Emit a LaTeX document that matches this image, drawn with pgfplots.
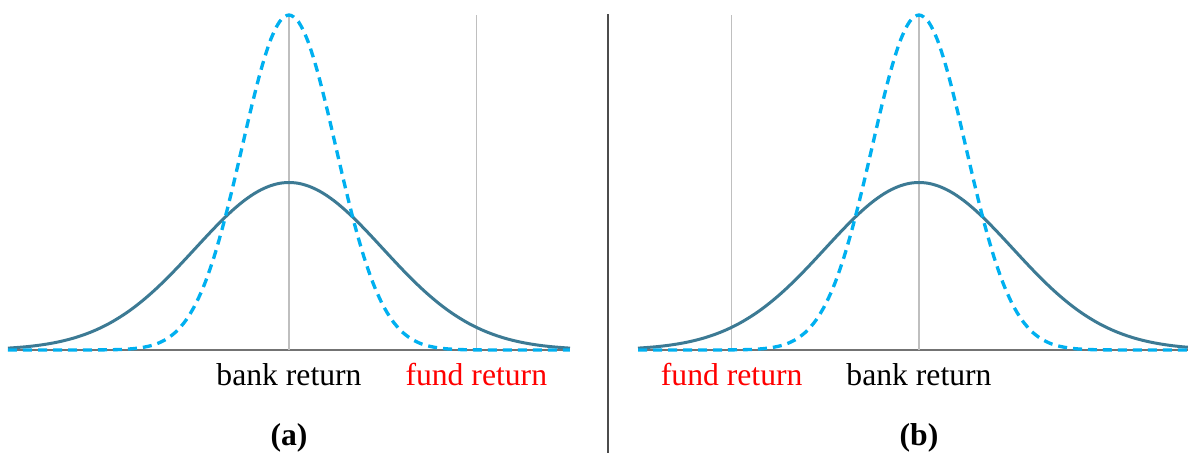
\documentclass[border=0pt]{standalone}
\usepackage{pgfplots}
\pgfplotsset{compat=1.18}
\usepackage{pgfplotstable}
\usepackage{fontspec}
\setmainfont{Liberation Serif}
\definecolor{solidc}{RGB}{60,122,148}
\definecolor{dashc}{RGB}{0,176,240}
\pgfplotstableread{
x s1 s05
-3.0 0.0044 0.0000
-2.9 0.0060 0.0000
-2.8 0.0079 0.0000
-2.7 0.0104 0.0000
-2.6 0.0136 0.0000
-2.5 0.0175 0.0000
-2.4 0.0224 0.0000
-2.3 0.0283 0.0000
-2.2 0.0355 0.0001
-2.1 0.0440 0.0001
-2.0 0.0540 0.0003
-1.9 0.0656 0.0006
-1.8 0.0790 0.0012
-1.7 0.0940 0.0025
-1.6 0.1109 0.0048
-1.5 0.1295 0.0089
-1.4 0.1497 0.0158
-1.3 0.1714 0.0272
-1.2 0.1942 0.0448
-1.1 0.2179 0.0710
-1.0 0.2420 0.1080
-0.9 0.2661 0.1579
-0.8 0.2897 0.2218
-0.7 0.3123 0.2995
-0.6 0.3332 0.3884
-0.5 0.3521 0.4839
-0.4 0.3683 0.5794
-0.3 0.3814 0.6664
-0.2 0.3910 0.7366
-0.1 0.3970 0.7821
0.0 0.3989 0.7979
0.1 0.3970 0.7821
0.2 0.3910 0.7366
0.3 0.3814 0.6664
0.4 0.3683 0.5794
0.5 0.3521 0.4839
0.6 0.3332 0.3884
0.7 0.3123 0.2995
0.8 0.2897 0.2218
0.9 0.2661 0.1579
1.0 0.2420 0.1080
1.1 0.2179 0.0710
1.2 0.1942 0.0448
1.3 0.1714 0.0272
1.4 0.1497 0.0158
1.5 0.1295 0.0089
1.6 0.1109 0.0048
1.7 0.0940 0.0025
1.8 0.0790 0.0012
1.9 0.0656 0.0006
2.0 0.0540 0.0003
2.1 0.0440 0.0001
2.2 0.0355 0.0001
2.3 0.0283 0.0000
2.4 0.0224 0.0000
2.5 0.0175 0.0000
2.6 0.0136 0.0000
2.7 0.0104 0.0000
2.8 0.0079 0.0000
2.9 0.0060 0.0000
3.0 0.0044 0.0000
}\curves
\pgfplotsset{
  panel/.style={
    scale only axis, width=168.6pt, height=100.5pt,
    anchor=south west,
    xmin=-3, xmax=3, ymin=0, ymax=0.7979,
    hide y axis, axis x line*=bottom, xtick=\empty,
    axis line style={draw=black!55, line width=0.6pt},
    clip=false,
  },
  solidcurve/.style={solidc, line width=0.9pt, smooth, no markers},
  dashcurve/.style={dashc, line width=1.0pt, smooth, no markers, dash pattern=on 2.7pt off 1.8pt},
}
\begin{document}
\fontsize{9.5}{11}\selectfont
\begin{tikzpicture}
\useasboundingbox (0,0) rectangle (356.4pt,135.9pt);
\draw[black!70, line width=0.5pt] (182.4pt,0) -- (182.4pt,131.7pt);
\begin{axis}[panel, at={(2.4pt,30.9pt)}]
  \draw[black!25, line width=0.35pt] (axis cs:0,0) -- (axis cs:0,0.7979);
  \draw[black!25, line width=0.35pt] (axis cs:2,0) -- (axis cs:2,0.7979);
  \addplot[solidcurve] table[x=x, y=s1] {\curves};
  \addplot[dashcurve] table[x=x, y=s05] {\curves};
  \node[anchor=base, font=\fontsize{9.5}{11}\selectfont] at (axis cs:0,0) [yshift=-10.6pt] {bank return};
  \node[anchor=base, text=red, font=\fontsize{9.5}{11}\selectfont] at (axis cs:2,0) [yshift=-10.6pt] {fund return};
  \node[anchor=base, font=\fontsize{9.5}{11}\selectfont\bfseries] at (axis cs:0,0) [yshift=-28.6pt] {(a)};
\end{axis}
\begin{axis}[panel, at={(191.4pt,30.9pt)}]
  \draw[black!25, line width=0.35pt] (axis cs:0,0) -- (axis cs:0,0.7979);
  \draw[black!25, line width=0.35pt] (axis cs:-2,0) -- (axis cs:-2,0.7979);
  \addplot[solidcurve] table[x=x, y=s1] {\curves};
  \addplot[dashcurve] table[x=x, y=s05] {\curves};
  \node[anchor=base, font=\fontsize{9.5}{11}\selectfont] at (axis cs:0,0) [yshift=-10.6pt] {bank return};
  \node[anchor=base, text=red, font=\fontsize{9.5}{11}\selectfont] at (axis cs:-2,0) [yshift=-10.6pt] {fund return};
  \node[anchor=base, font=\fontsize{9.5}{11}\selectfont\bfseries] at (axis cs:0,0) [yshift=-28.6pt] {(b)};
\end{axis}
\end{tikzpicture}
\end{document}
